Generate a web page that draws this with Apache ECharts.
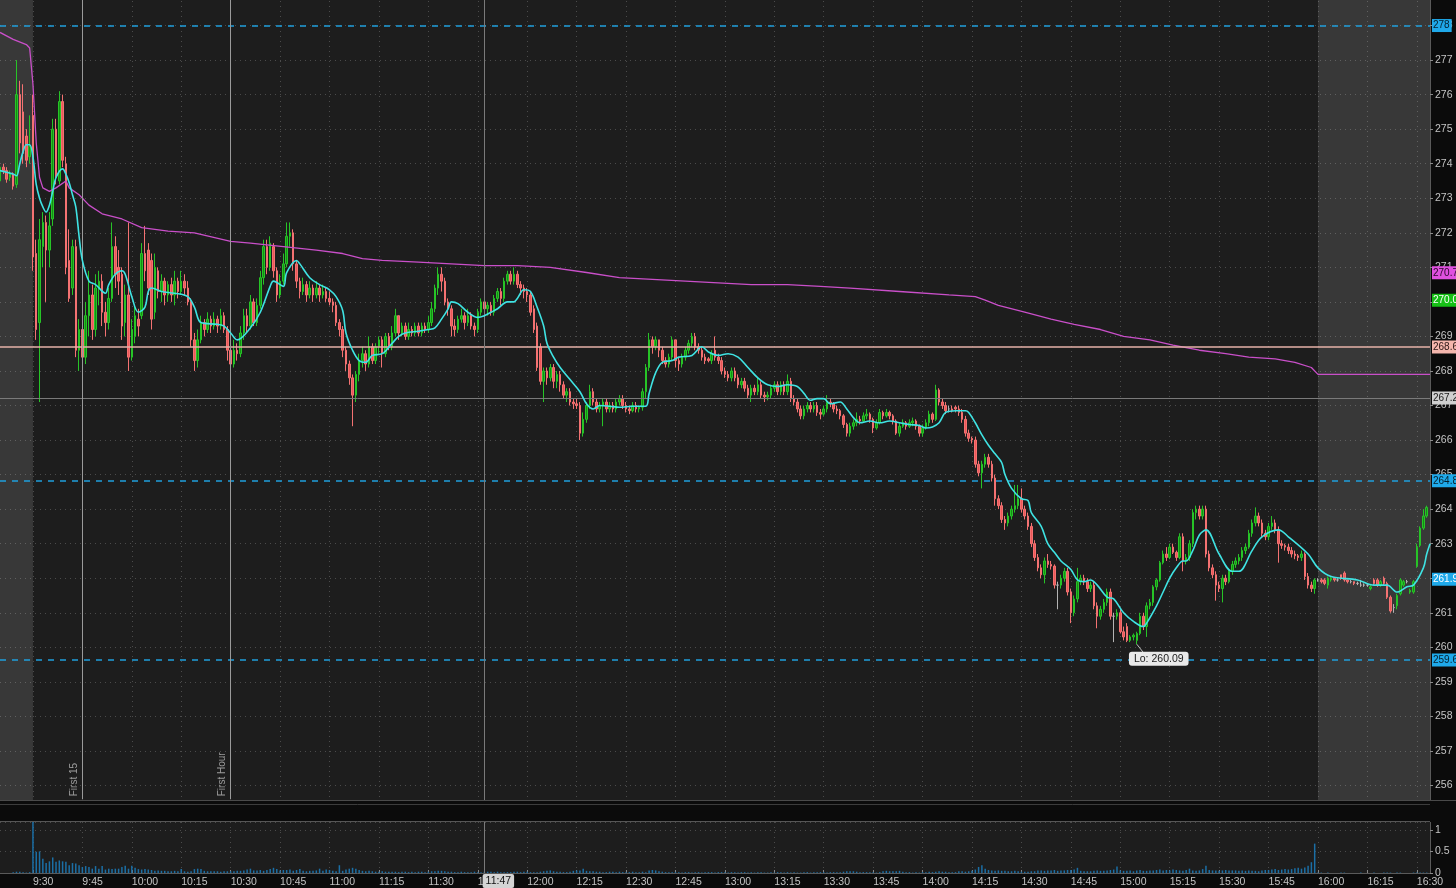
<!DOCTYPE html>
<html><head><meta charset="utf-8">
<script src="https://cdn.jsdelivr.net/npm/echarts@6/dist/echarts.min.js"></script>
<style>html,body{margin:0;padding:0;background:#0b0b0b;}#c{width:1456px;height:888px;}</style>
</head><body><div id="c"></div>
<script>
// ---------- time axis ----------
const firstMinute = 9 * 60 + 20;   // 9:20
const minuteCount = 435;            // 9:20 .. 16:34
function minuteLabel(t) { return Math.floor(t / 60) + ':' + String(t % 60).padStart(2, '0'); }
const categories = Array.from({ length: minuteCount }, (_, i) => minuteLabel(firstMinute + i));
const tickLabels = ['9:30','9:45','10:00','10:15','10:30','10:45','11:00','11:15','11:30','11:45','12:00','12:15','12:30','12:45','13:00','13:15','13:30','13:45','14:00','14:15','14:30','14:45','15:00','15:15','15:30','15:45','16:00','16:15','16:30'];
const priceTicks = [256,257,258,259,260,261,262,263,264,265,266,267,268,269,270,271,272,273,274,275,276,277,278];

// ---------- candles [open, close, low, high] ----------
const candles0920 = [
[273.5,273.9,273.4,274.0],[273.9,273.8,273.7,274.0],[273.8,273.55,273.45,273.9],[273.6,273.7,273.5,273.8],[273.7,273.35,273.25,273.75],
[273.4,276.0,273.3,277.0],[276.0,274.6,274.3,276.4],[275.5,274.3,274.0,276.3],[274.8,274.1,273.9,275.0],[274.2,274.5,274.0,275.4]];
const candles0930 = [
[275.4,271.3,270.9,276.0],[271.4,269.2,268.9,271.8],[269.4,271.8,267.1,272.4],[271.6,272.3,271.0,272.6],[272.3,271.5,270.0,272.5],
[271.5,272.2,271.0,272.6],[272.4,275.0,272.2,275.3],[275.0,273.6,273.4,275.3],[273.5,275.8,273.4,276.1],[275.8,274.1,273.9,276.0],
[274.0,271.0,270.8,274.2],[271.2,270.1,270.0,272.1],[270.4,271.6,270.2,271.8],[271.6,268.6,268.4,271.8],[268.6,269.2,268.0,269.5],
[269.2,268.4,267.9,269.5],[268.4,269.6,268.2,270.0],[269.6,270.2,269.0,270.9],[270.2,269.2,268.9,270.5],[269.2,270.4,269.0,270.8],
[270.4,270.6,269.9,270.9],[270.6,269.7,269.3,270.8],[269.7,269.4,269.0,270.0],[269.4,270.1,269.2,270.4],[270.1,271.6,270.0,272.3],
[271.6,270.8,270.4,271.9],[271.0,270.6,270.2,271.5],[270.8,269.3,268.9,271.0],[269.4,270.2,269.0,270.5],[270.2,268.4,268.0,272.3]];
const candles1000 = [
[268.4,269.2,268.3,269.5],[269.0,269.6,268.8,269.9],[269.5,269.3,269.0,269.8],[269.6,271.4,269.5,271.7],[271.4,270.9,270.6,272.2],
[271.5,270.4,270.2,271.7],[271.2,269.5,269.2,271.4],[269.7,271.0,269.5,271.4],[270.9,270.3,270.1,271.0],[270.3,270.6,270.0,270.8],
[270.6,270.2,269.9,270.7],[270.2,270.5,270.0,270.6],[270.5,270.2,270.0,270.7],[270.2,270.6,269.9,270.9],[270.6,270.3,270.1,270.7],
[270.3,270.6,270.2,270.9],[270.6,270.4,270.2,270.8],[270.4,270.0,269.9,270.6],[270.0,268.9,268.7,270.1],[268.9,268.3,268.0,269.1],
[268.3,268.9,268.1,269.2],[268.9,269.4,268.8,269.6],[269.4,269.2,269.0,269.5],[269.2,269.5,269.1,269.7],[269.5,269.3,269.1,269.6],
[269.3,269.5,269.2,269.7],[269.5,269.3,269.1,269.6],[269.3,269.6,269.2,269.8],[269.6,269.2,269.1,269.7],[269.2,268.6,268.3,269.3]];
const candles1030 = [
[268.6,268.2,268.0,268.7],[268.2,268.6,268.1,268.9],[268.6,268.5,268.3,268.8],[268.5,269.1,268.4,269.3],[269.1,269.6,268.9,269.8],
[269.6,269.3,269.1,269.8],[269.3,270.0,269.2,270.2],[270.0,269.4,269.3,270.1],[269.4,269.9,269.3,270.1],[269.9,270.7,269.8,270.9],
[270.7,271.6,270.5,271.8],[271.6,271.0,270.8,271.8],[271.0,271.7,270.9,271.9],[271.6,270.9,270.7,271.7],[270.9,270.2,270.0,271.0],
[270.2,270.6,270.1,270.8],[270.6,271.1,270.5,271.4],[271.1,271.9,271.0,272.3],[271.9,272.0,271.6,272.3],[272.0,271.1,270.9,272.1],
[271.1,270.6,270.4,271.2],[270.6,270.3,270.1,270.7],[270.3,270.5,270.2,270.7],[270.5,270.2,270.0,270.6],[270.2,270.4,270.1,270.6],
[270.4,270.2,270.0,270.5],[270.2,270.4,270.1,270.6],[270.4,270.2,270.0,270.5],[270.2,270.3,270.1,270.5],[270.3,270.1,270.0,270.4]];
const candles1100 = [
[270.1,270.0,269.9,270.3],[270.0,269.9,269.7,270.1],[269.9,269.4,269.3,270.0],[269.4,269.2,269.0,269.5],[269.2,268.6,268.4,269.3],
[268.6,268.2,268.0,268.7],[268.2,267.8,267.6,268.3],[267.8,267.3,266.4,267.9],[267.3,267.9,267.1,268.0],[267.9,268.3,267.7,268.5],
[268.3,268.5,268.1,268.7],[268.5,268.2,268.0,268.6],[268.2,268.7,268.1,269.0],[268.7,268.3,268.2,268.8],[268.3,268.7,268.2,268.8],
[268.7,268.9,268.5,269.0],[268.9,268.5,268.1,269.0],[268.5,269.0,268.4,269.1],[269.0,268.7,268.6,269.1],[268.7,269.1,268.6,269.3],
[269.1,269.6,269.0,269.8],[269.6,269.1,268.9,269.6],[269.1,269.3,269.0,269.4],[269.3,269.0,268.9,269.4],[269.0,269.2,268.9,269.4],
[269.2,269.1,269.0,269.3],[269.1,269.3,269.0,269.4],[269.3,269.1,269.0,269.4],[269.1,269.3,269.0,269.4],[269.3,269.2,269.1,269.4]];
const candles1130 = [
[269.2,269.4,269.1,269.6],[269.4,269.8,269.3,270.0],[269.8,270.4,269.7,270.5],[270.4,270.8,270.2,271.0],[270.8,270.6,270.3,271.0],
[270.6,270.0,269.9,270.7],[270.0,269.8,269.6,270.1],[269.8,269.3,269.0,269.9],[269.3,269.2,269.0,269.5],[269.2,269.5,269.1,269.6],
[269.5,269.6,269.4,269.8],[269.6,269.4,269.2,269.7],[269.4,269.6,269.3,269.8],[269.6,269.3,269.2,269.7],[269.3,269.2,269.0,269.4],
[269.2,269.7,269.1,269.8],[269.7,270.0,269.6,270.1],[270.0,269.8,269.7,270.1],[269.8,269.9,269.6,270.0],[269.9,269.7,269.6,270.0],
[269.7,270.1,269.6,270.2],[270.1,270.3,270.0,270.4],[270.3,270.1,269.9,270.4],[270.1,270.6,270.0,270.7],[270.6,270.8,270.5,270.9],
[270.8,270.6,270.5,270.9],[270.6,270.8,270.5,271.0],[270.8,270.5,270.4,270.9],[270.5,270.4,270.2,270.6],[270.4,270.3,270.1,270.5]];
const candles1200 = [
[270.3,270.2,270.0,270.4],[270.2,269.7,269.6,270.3],[269.8,269.2,269.1,269.9],[269.3,268.1,268.0,269.4],[268.7,267.7,267.6,268.8],
[267.7,268.0,267.1,268.1],[268.0,267.8,267.6,268.1],[267.8,268.1,267.7,268.2],[268.1,267.7,267.5,268.2],[267.7,267.9,267.5,268.0],
[267.9,267.6,267.4,268.0],[267.6,267.3,267.2,267.7],[267.3,267.4,267.1,267.5],[267.4,267.1,267.0,267.5],[267.1,267.05,266.9,267.2],
[267.05,267.0,266.9,267.2],[267.0,266.2,266.0,267.1],[266.2,266.6,266.1,266.8],[266.6,267.0,266.5,267.1],[267.0,267.4,266.9,267.6],
[267.4,267.1,267.0,267.5],[267.1,266.9,266.8,267.2],[266.9,267.0,266.8,267.1],[267.0,267.1,266.4,267.2],[267.1,266.9,266.8,267.2],
[266.9,267.0,266.8,267.1],[267.0,266.9,266.8,267.1],[266.9,267.1,266.8,267.2],[267.1,267.2,267.0,267.3],[267.2,267.0,266.9,267.3]];
const candles1230 = [
[267.0,266.9,266.8,267.1],[266.9,266.85,266.75,267.0],[266.85,267.0,266.8,267.1],[267.0,266.9,266.8,267.1],[266.9,266.95,266.8,267.0],
[266.95,267.4,266.85,267.5],[267.4,268.1,267.2,268.2],[268.1,268.9,268.0,269.1],[268.9,268.7,268.5,269.0],[268.7,268.9,268.6,269.0],
[268.9,268.6,268.4,268.9],[268.6,268.3,268.2,268.7],[268.3,268.2,268.1,268.4],[268.2,268.4,268.1,268.5],[268.4,268.9,268.3,269.0],
[268.9,268.3,268.1,268.9],[268.3,268.2,268.0,268.4],[268.2,268.4,268.1,268.5],[268.4,268.6,268.3,268.7],[268.6,268.8,268.5,268.9],
[268.8,269.0,268.7,269.1],[269.0,268.7,268.6,269.1],[268.7,268.6,268.5,268.8],[268.6,268.4,268.3,268.7],[268.4,268.3,268.2,268.5],
[268.35,268.3,268.25,268.4],[268.3,268.5,268.2,268.6],[268.6,268.4,268.3,269.0],[268.4,268.3,268.2,268.5],[268.3,268.0,267.9,268.4]];
const candles1300 = [
[268.0,267.9,267.8,268.1],[267.9,267.8,267.7,268.0],[267.8,268.0,267.7,268.1],[268.0,267.8,267.7,268.1],[267.8,267.6,267.5,267.9],
[267.6,267.7,267.5,267.8],[267.7,267.5,267.4,267.8],[267.5,267.3,267.2,267.6],[267.3,267.5,267.1,267.6],[267.5,267.4,267.3,267.6],
[267.4,267.6,267.3,267.8],[267.6,267.3,267.2,267.7],[267.3,267.25,267.1,267.4],[267.25,267.3,267.15,267.4],[267.3,267.5,267.2,267.6],
[267.5,267.6,267.4,267.7],[267.6,267.4,267.3,267.7],[267.4,267.6,267.3,267.7],[267.6,267.4,267.3,267.7],[267.4,267.7,267.3,267.9],
[267.7,267.2,267.1,267.8],[267.2,267.1,267.0,267.3],[267.1,266.9,266.8,267.2],[266.9,266.7,266.6,267.0],[266.7,266.9,266.6,267.0],
[266.9,267.0,266.8,267.1],[267.0,266.9,266.8,267.1],[266.9,267.0,266.8,267.1],[267.0,266.8,266.7,267.1],[266.8,266.75,266.6,266.9]];
const candles1330 = [
[266.75,266.9,266.7,267.0],[266.9,267.1,266.8,267.3],[267.1,267.05,266.95,267.2],[267.05,266.9,266.8,267.1],[266.9,266.85,266.75,267.0],
[266.85,266.7,266.6,266.9],[266.7,266.45,266.35,266.75],[266.45,266.2,266.1,266.5],[266.2,266.4,266.1,266.5],[266.4,266.5,266.3,266.6],
[266.5,266.6,266.4,266.8],[266.6,266.55,266.45,266.7],[266.55,266.7,266.5,266.8],[266.7,266.75,266.6,266.9],[266.75,266.6,266.5,266.8],
[266.6,266.35,266.2,266.65],[266.35,266.5,266.3,266.6],[266.5,266.8,266.45,266.9],[266.8,266.7,266.6,266.85],[266.7,266.8,266.65,266.9],
[266.8,266.7,266.6,266.85],[266.7,266.55,266.45,266.75],[266.55,266.2,266.15,266.6],[266.2,266.4,266.1,266.5],[266.4,266.5,266.35,266.6],
[266.5,266.4,266.3,266.55],[266.4,266.5,266.35,266.6],[266.5,266.55,266.4,266.65],[266.55,266.4,266.3,266.6],[266.4,266.2,266.1,266.45]];
const candles1400 = [
[266.2,266.35,266.1,266.45],[266.35,266.5,266.3,266.6],[266.5,266.75,266.4,266.85],[266.75,266.6,266.5,266.8],[266.6,267.45,266.55,267.6],
[267.45,267.1,267.0,267.5],[267.1,267.0,266.9,267.2],[267.0,266.85,266.75,267.1],[266.9,266.9,266.8,267.0],[266.9,266.85,266.8,267.0],
[266.95,266.9,266.8,267.0],[266.9,266.8,266.7,267.0],[266.8,266.6,266.5,266.9],[266.6,266.2,266.1,266.7],[266.2,266.05,265.95,266.3],
[266.05,266.0,265.9,266.1],[266.0,265.3,265.2,266.1],[265.3,265.05,264.95,265.4],[265.05,265.3,264.6,265.4],[265.3,265.5,265.2,265.6],
[265.5,265.3,265.2,265.6],[265.3,264.9,264.8,265.4],[264.9,264.3,264.1,265.0],[264.3,264.1,264.0,264.4],[264.1,263.7,263.6,264.2],
[263.7,263.6,263.4,263.8],[263.6,263.8,263.5,263.9],[263.8,264.0,263.7,264.1],[264.0,264.1,263.9,264.7],[264.1,264.3,264.0,264.7]];
const candles1430 = [
[264.3,264.0,263.9,264.6],[264.0,263.8,263.7,264.1],[263.8,263.5,263.4,263.9],[263.5,263.0,262.9,263.6],[263.0,262.6,262.5,263.1],
[262.6,262.3,262.2,262.7],[262.3,262.1,262.0,262.4],[262.1,262.5,261.85,262.6],[262.5,262.4,262.3,262.7],[262.4,262.35,262.25,262.5],
[262.35,261.8,261.7,262.4],[261.8,261.8,261.1,261.9],[261.8,262.0,261.7,262.1],[262.0,262.2,261.9,262.3],[262.2,261.6,261.5,262.3],
[261.6,261.0,260.7,261.7],[261.0,261.4,260.9,261.5],[261.4,261.9,261.3,262.3],[261.9,262.0,261.8,262.1],[262.0,261.9,261.8,262.1],
[261.9,261.7,261.6,262.0],[261.7,261.8,261.6,261.9],[261.8,261.2,261.1,261.9],[261.2,260.9,260.55,261.3],[260.9,261.1,260.8,261.2],
[261.1,261.3,261.0,261.4],[261.3,261.6,261.2,261.7],[261.6,260.9,260.8,261.7],[260.9,260.9,260.15,261.0],[260.9,261.0,260.8,261.1]];
const candles1500 = [
[261.0,260.45,260.4,261.1],[260.45,260.3,260.2,260.6],[260.6,260.2,260.15,260.7],[260.2,260.3,260.15,260.35],[260.3,260.35,260.2,260.4],
[260.2,260.4,260.09,260.45],[260.4,260.9,260.35,261.0],[260.9,260.6,260.5,261.0],[260.6,261.2,260.3,261.3],[261.2,261.3,261.1,261.4],
[261.3,261.75,261.2,261.8],[261.75,261.95,261.65,262.0],[261.95,262.45,261.9,262.5],[262.45,262.7,262.4,262.8],[262.7,262.6,262.5,262.9],
[262.6,262.9,262.55,263.0],[262.9,262.75,262.7,263.0],[262.75,262.6,262.5,262.8],[262.6,263.2,262.55,263.3],[263.2,262.5,262.2,263.3],
[262.5,262.6,262.4,262.7],[262.6,263.0,262.5,263.1],[263.0,263.9,262.9,264.0],[263.9,264.0,263.7,264.1],[264.0,263.8,263.7,264.1],
[263.8,264.0,263.7,264.1],[264.0,262.7,262.6,264.1],[262.7,262.3,262.2,262.8],[262.3,262.1,262.0,262.4],[262.1,261.8,261.35,262.2]];
const candles1530 = [
[261.8,261.7,261.6,261.9],[261.7,262.0,261.3,262.1],[262.0,261.9,261.8,262.1],[261.9,262.2,261.85,262.3],[262.2,262.4,262.1,262.5],
[262.4,262.5,262.3,262.6],[262.5,262.6,262.4,262.7],[262.6,262.8,262.5,262.9],[262.8,262.9,262.7,263.0],[262.9,263.3,262.85,263.4],
[263.3,263.6,263.2,263.7],[263.6,263.8,263.5,264.05],[263.8,263.6,263.5,263.9],[263.6,263.3,263.2,263.7],[263.3,263.2,263.1,263.4],
[263.2,263.5,263.1,263.6],[263.5,263.6,263.4,263.8],[263.6,263.4,263.3,263.7],[263.4,263.0,262.45,263.5],[263.0,262.95,262.85,263.1],
[262.95,262.9,262.8,263.0],[262.9,262.8,262.7,263.0],[262.8,262.7,262.6,262.9],[262.7,262.65,262.55,262.8],[262.65,262.6,262.5,262.7],
[262.6,262.7,262.5,262.8],[262.7,262.05,261.95,262.75],[262.05,261.8,261.7,262.15],[261.8,261.7,261.6,261.9],[261.7,261.95,261.55,262.0]];
const candles1600 = [
[261.95,261.95,261.9,262.0],[261.95,261.9,261.85,262.0],[261.95,261.85,261.8,262.0],[261.8,262.0,261.7,262.05],[261.95,262.0,261.9,262.05],
[262.0,261.95,261.9,262.0],[261.95,261.95,261.9,262.0],[262.1,262.0,261.95,262.1],[262.15,261.95,261.9,262.2],[261.95,261.9,261.85,261.95],
[261.9,261.9,261.85,261.95],[261.9,261.85,261.8,261.9],[261.85,261.85,261.8,261.9],[261.8,261.8,261.75,261.95],[261.8,261.8,261.75,261.85],
[261.8,261.8,261.75,261.85],[261.7,261.75,261.65,261.8],[261.95,261.85,261.8,262.0],[261.95,261.8,261.75,262.0],[261.8,261.9,261.75,261.95],
[262.0,261.85,261.8,262.05],[261.85,261.45,261.4,261.9],[261.45,261.05,261.0,261.5],[261.15,261.15,261.0,261.25],[261.2,261.5,261.1,261.55],
[261.55,261.95,261.5,262.0],[261.8,261.9,261.75,261.95],[261.9,261.9,261.85,261.95],[261.6,261.65,261.55,261.7],[261.6,261.9,261.55,261.95],
[262.35,262.9,262.3,263.0],[262.95,263.45,262.9,263.5],[263.45,263.8,263.4,264.0],[263.8,264.05,263.75,264.1]];

// ---------- volume (millions) ----------
const volume0920 = [0,0,0,0,0.02,0.03,0.03,0.02,0.01,0.02];
const volume0930 = [1.5,0.49,0.5,0.33,0.23,0.27,0.36,0.26,0.29,0.27,0.26,0.18,0.23,0.22,0.18,0.14,0.16,0.14,0.1,0.16,0.1,0.16,0.08,0.1,0.09,0.1,0.1,0.14,0.17,0.1];
const volume1000 = [0.17,0.12,0.09,0.08,0.09,0.08,0.07,0.05,0.06,0.05,0.05,0.04,0.04,0.05,0.04,0.09,0.04,0.03,0.04,0.09,0.1,0.09,0.05,0.04,0.04,0.04,0.04,0.03,0.04,0.04];
const volume1030 = [0.04,0.04,0.05,0.05,0.06,0.08,0.1,0.06,0.06,0.07,0.05,0.07,0.09,0.12,0.09,0.06,0.07,0.07,0.08,0.05,0.07,0.09,0.05,0.04,0.05,0.05,0.06,0.1,0.05,0.08];
const volume1100 = [0.07,0.05,0.04,0.18,0.05,0.08,0.1,0.12,0.1,0.07,0.05,0.04,0.05,0.04,0.03,0.03,0.04,0.03,0.03,0.03,0.03,0.02,0.03,0.03,0.02,0.03,0.02,0.03,0.03,0.02];
const volume1130 = [0.03,0.04,0.04,0.05,0.05,0.04,0.03,0.03,0.02,0.02,0.03,0.02,0.02,0.02,0.03,0.02,0.02,0.03,0.03,0.03,0.02,0.03,0.02,0.02,0.02,0.02,0.03,0.03,0.02,0.03];
const volume1200 = [0.03,0.02,0.02,0.02,0.03,0.04,0.05,0.06,0.04,0.03,0.03,0.02,0.02,0.03,0.05,0.06,0.06,0.1,0.05,0.04,0.04,0.03,0.03,0.02,0.02,0.03,0.03,0.02,0.03,0.02];
const volume1230 = [0.02,0.02,0.03,0.02,0.02,0.03,0.02,0.06,0.07,0.06,0.04,0.03,0.02,0.02,0.02,0.02,0.02,0.01,0.02,0.02,0.01,0.02,0.02,0.01,0.02,0.02,0.02,0.01,0.02,0.02];
const volume1300 = [0.02,0.01,0.02,0.02,0.01,0.02,0.02,0.01,0.02,0.01,0.02,0.02,0.01,0.01,0.02,0.01,0.02,0.02,0.01,0.02,0.01,0.02,0.01,0.01,0.02,0.02,0.01,0.02,0.02,0.02];
const volume1330 = [0.02,0.01,0.02,0.02,0.02,0.02,0.03,0.04,0.04,0.04,0.03,0.02,0.02,0.02,0.02,0.02,0.01,0.02,0.04,0.05,0.04,0.04,0.04,0.05,0.03,0.02,0.02,0.01,0.02,0.01];
const volume1400 = [0.02,0.02,0.03,0.02,0.03,0.04,0.03,0.03,0.02,0.02,0.02,0.04,0.04,0.03,0.04,0.05,0.08,0.14,0.18,0.1,0.07,0.06,0.05,0.06,0.05,0.05,0.04,0.04,0.05,0.04];
const volume1430 = [0.03,0.03,0.03,0.04,0.04,0.06,0.06,0.05,0.06,0.06,0.07,0.05,0.06,0.06,0.07,0.07,0.08,0.12,0.05,0.04,0.04,0.04,0.05,0.06,0.05,0.05,0.06,0.07,0.08,0.15];
const volume1500 = [0.06,0.05,0.05,0.06,0.04,0.06,0.07,0.05,0.05,0.06,0.06,0.07,0.08,0.06,0.07,0.06,0.08,0.07,0.06,0.05,0.07,0.1,0.06,0.05,0.06,0.09,0.17,0.07,0.06,0.06];
const volume1530 = [0.05,0.06,0.07,0.06,0.06,0.06,0.05,0.06,0.05,0.06,0.05,0.05,0.04,0.06,0.07,0.07,0.08,0.09,0.07,0.08,0.09,0.08,0.09,0.11,0.12,0.1,0.13,0.17,0.25,0.68];
const volume1600 = [0.01,0.01,0,0.01,0,0,0,0.01,0.01,0,0,0,0,0.01,0,0,0,0.01,0,0,0.01,0.01,0.01,0,0.01,0.01,0,0,0,0.01,0.01,0.01,0.01,0.01];

// ---------- studies ----------
const emaPoints = [['9:20',273.8],['9:24',273.7],['9:25',273.65],['9:26',274.0],['9:27',274.35],['9:28',274.55],['9:29',274.55],['9:30',274.2],['9:31',273.4],['9:32',273.0],['9:33',272.75],['9:34',272.6],['9:35',272.8],['9:36',273.2],['9:37',273.6],['9:39',273.85],['9:40',273.7],['9:41',273.45],['9:42',273.1],['9:43',272.75],['9:44',271.9],['9:45',271.2],['9:47',270.6],['9:49',270.5],['9:52',270.25],['9:53',270.5],['9:55',270.8],['9:57',270.9],['9:58',270.8],['10:00',270.15],['10:02',269.7],['10:04',269.85],['10:05',270.3],['10:06',270.4],['10:09',270.3],['10:13',270.25],['10:17',270.15],['10:19',269.85],['10:21',269.4],['10:26',269.35],['10:28',269.3],['10:30',269.1],['10:32',268.9],['10:36',269.25],['10:39',269.7],['10:42',270.45],['10:43',270.6],['10:46',270.45],['10:47',270.85],['10:50',271.2],['10:51',271.1],['10:54',270.7],['10:57',270.5],['11:00',270.35],['11:02',270.15],['11:04',269.75],['11:05',269.1],['11:07',268.6],['11:09',268.3],['11:11',268.25],['11:13',268.45],['11:16',268.5],['11:19',268.8],['11:21',269.0],['11:23',269.1],['11:27',269.15],['11:30',269.2],['11:32',269.25],['11:34',269.5],['11:36',269.8],['11:37',270.0],['11:39',269.95],['11:42',269.7],['11:45',269.55],['11:47',269.6],['11:49',269.7],['11:51',269.8],['11:54',270.0],['11:56',270.0],['11:57',270.1],['11:59',270.35],['12:01',270.3],['12:03',269.85],['12:05',269.3],['12:06',268.8],['12:08',268.4],['12:10',268.1],['12:13',267.75],['12:16',267.4],['12:18',267.05],['12:20',266.9],['12:22',267.0],['12:25',266.98],['12:28',266.95],['12:32',266.98],['12:36',266.98],['12:37',267.35],['12:39',267.95],['12:41',268.25],['12:44',268.3],['12:46',268.4],['12:50',268.45],['12:53',268.7],['12:55',268.55],['12:58',268.45],['13:01',268.5],['13:04',268.4],['13:07',268.1],['13:10',267.8],['13:13',267.6],['13:16',267.55],['13:19',267.6],['13:22',267.55],['13:24',267.35],['13:26',267.15],['13:28',267.2],['13:30',267.2],['13:32',267.05],['13:35',267.1],['13:37',266.9],['13:39',266.65],['13:41',266.5],['13:44',266.55],['13:47',266.5],['13:50',266.55],['13:53',266.5],['13:56',266.45],['13:59',266.42],['14:01',266.35],['14:03',266.38],['14:05',266.5],['14:07',266.8],['14:10',266.85],['14:13',266.85],['14:14',266.8],['14:16',266.5],['14:18',266.15],['14:20',265.85],['14:22',265.6],['14:24',265.35],['14:25',265.0],['14:27',264.6],['14:30',264.3],['14:32',264.25],['14:33',263.9],['14:36',263.5],['14:38',263.0],['14:40',262.75],['14:42',262.5],['14:45',262.25],['14:47',261.95],['14:49',261.9],['14:51',261.95],['14:53',261.8],['14:56',261.45],['14:58',261.4],['15:01',261.0],['15:04',260.75],['15:07',260.6],['15:08',260.7],['15:11',261.2],['15:13',261.6],['15:15',262.0],['15:17',262.3],['15:19',262.5],['15:20',262.5],['15:22',262.8],['15:24',263.25],['15:26',263.4],['15:30',262.7],['15:34',262.2],['15:36',262.2],['15:40',262.8],['15:43',263.2],['15:48',263.4],['15:51',263.2],['15:57',262.7],['16:00',262.3],['16:04',262.05],['16:12',261.95],['16:17',261.8],['16:21',261.8],['16:24',261.6],['16:27',261.75],['16:29',261.8],['16:32',262.3],['16:33',262.7],['16:34',263.0]];
const vwapTimes = ['9:20','9:24','9:28','9:29','9:30','9:31','9:32','9:33','9:35','9:37','9:40','9:41','9:44','9:47','9:51','9:57','10:03','10:11','10:19','10:30','10:36','10:46','10:56','11:04','11:10','11:16','11:27','11:37','11:47','11:57','12:07','12:18','12:28','12:38','12:48','12:58','13:08','13:19','13:29','13:38','13:53','14:08','14:16','14:19','14:23','14:31','14:39','14:46','14:54','15:01','15:09','15:16','15:24','15:32','15:39','15:47','15:53','15:58','16:00','16:34'];
const vwapValues = [277.8,277.6,277.45,277.35,276.3,274.6,273.6,273.3,273.2,273.3,273.5,273.3,273.1,272.8,272.55,272.4,272.15,272.05,272.0,271.75,271.7,271.6,271.5,271.4,271.25,271.2,271.15,271.1,271.05,271.05,271.0,270.85,270.7,270.65,270.6,270.55,270.5,270.5,270.45,270.4,270.3,270.2,270.15,270.05,269.9,269.7,269.5,269.35,269.2,269.0,268.9,268.75,268.6,268.5,268.4,268.35,268.25,268.1,267.9,267.9];

// ---------- price levels ----------
const dashedLevels = [278, 264.82, 259.63];
const dashedLevelTexts = ['278', '264.82', '259.63'];
const priorCloseLevel = 268.69;
const crosshairPrice = 267.22;
const crosshairTime = '11:47';
const tagOnlyLevels = [270.84, 270.05, 261.97];
const tagOnlyTexts = ['270.78', '270.05', '261.97'];
const sessionLow = { time: '15:05', value: 260.09 };

// ---------- assemble ----------
function fit(block, n) { const b = block.slice(0, n); while (b.length < n) b.push('-'); return b; }
const candles = [].concat(fit(candles0920,10), fit(candles0930,30), fit(candles1000,30), fit(candles1030,30), fit(candles1100,30),
  fit(candles1130,30), fit(candles1200,30), fit(candles1230,30), fit(candles1300,30), fit(candles1330,30), fit(candles1400,30),
  fit(candles1430,30), fit(candles1500,30), fit(candles1530,30), fit(candles1600,34));
while (candles.length < minuteCount) candles.push('-');
const volumes = [].concat(fit(volume0920,10), fit(volume0930,30), fit(volume1000,30), fit(volume1030,30), fit(volume1100,30),
  fit(volume1130,30), fit(volume1200,30), fit(volume1230,30), fit(volume1300,30), fit(volume1330,30), fit(volume1400,30),
  fit(volume1430,30), fit(volume1500,30), fit(volume1530,30), fit(volume1600,34));
while (volumes.length < minuteCount) volumes.push('-');
const vwapPoints = vwapTimes.map((t, i) => [t, vwapValues[i]]);

const tickSet = new Set(tickLabels);
const isTick = (idx) => tickSet.has(categories[idx]);
const FONT = 'Liberation Sans';
const dotted = { show: true, lineStyle: { color: '#4b4b4b', type: [1, 4], width: 1 } };

function tag(text, bg, fg) {
  return { show: true, position: 'end', formatter: text, backgroundColor: bg, color: fg, fontSize: 10,
    fontFamily: FONT, padding: [1, 2, 0, 1], distance: 2, lineHeight: 12 };
}
const levelLines = [];
dashedLevels.forEach((v, i) => levelLines.push({ yAxis: v,
  lineStyle: { color: '#1f9fdc', type: [6, 6], width: 1.6 }, label: tag(dashedLevelTexts[i], '#1fa9ea', '#06202e') }));
levelLines.push({ yAxis: priorCloseLevel, lineStyle: { color: '#e6b2a8', type: 'solid', width: 1.5 },
  label: tag(String(priorCloseLevel), '#f4b6ad', '#2a1616') });
levelLines.push({ yAxis: crosshairPrice, lineStyle: { color: '#7a7a7a', type: 'solid', width: 1 },
  label: tag(String(crosshairPrice), '#cfcfcf', '#1a1a1a') });
const tagColors = [['#e050e0', '#2a082a'], ['#16c016', '#ffffff'], ['#1fa9ea', '#ffffff']];
tagOnlyLevels.forEach((v, i) => levelLines.push({ yAxis: v, lineStyle: { color: 'rgba(0,0,0,0)', width: 1 },
  label: tag(tagOnlyTexts[i], tagColors[i][0], tagColors[i][1]) }));
function marker(time, text) {
  const st = { color: '#9a9a9a', type: 'solid', width: 1 };
  return [{ coord: [time, 255.6], lineStyle: st,
    label: { show: true, formatter: text, position: 'insideStartTop', color: '#9c9c9c', fontSize: 10, fontFamily: FONT, distance: 3 } },
    { coord: [time, 279], lineStyle: st }];
}
levelLines.push(marker('9:45', 'First 15'));
levelLines.push(marker('10:30', 'First Hour'));
levelLines.push({ xAxis: crosshairTime, lineStyle: { color: '#7a7a7a', type: 'solid', width: 1 }, label: { show: false } });
levelLines.push([{ coord: [sessionLow.time, sessionLow.value], lineStyle: { color: '#bdbdbd', type: 'solid', width: 1 }, label: { show: false } },
  { coord: ['15:07', 259.85] }]);

const chart = echarts.init(document.getElementById('c'), null, { renderer: 'canvas' });
chart.setOption({
  animation: false,
  backgroundColor: '#0b0b0b',
  textStyle: { fontFamily: FONT },
  grid: [
    { left: 0, right: 26, top: -9, height: 829, show: true, backgroundColor: '#1d1d1d', borderWidth: 0, outerBoundsMode: 'none', containLabel: false },
    { left: 0, right: 26, top: 822, height: 51, show: true, backgroundColor: '#1d1d1d', borderWidth: 0, outerBoundsMode: 'none', containLabel: false }
  ],
  xAxis: [
    { type: 'category', gridIndex: 0, data: categories, boundaryGap: false,
      axisLine: { show: false }, axisTick: { show: false }, axisLabel: { show: false },
      splitLine: Object.assign({ interval: isTick }, dotted) },
    { type: 'category', gridIndex: 1, data: categories, boundaryGap: false,
      axisLine: { show: true, lineStyle: { color: '#5a5a5a' } },
      axisTick: { show: true, inside: true, length: 3, interval: isTick, alignWithLabel: true, lineStyle: { color: '#888' } },
      axisLabel: { interval: isTick, align: 'left', color: '#c4c4c4', fontSize: 10.5, margin: 4, fontFamily: FONT, hideOverlap: false },
      splitLine: Object.assign({ interval: isTick }, dotted) }
  ],
  yAxis: [
    { type: 'value', gridIndex: 0, position: 'right', min: 255, max: 279, interval: 1,
      axisLine: { show: true, lineStyle: { color: '#5a5a5a' } },
      axisTick: { show: true, length: 3, lineStyle: { color: '#8a8a8a' } },
      axisLabel: { color: '#c4c4c4', fontSize: 10.5, margin: 5, fontFamily: FONT, showMaxLabel: false, showMinLabel: false,
        formatter: (v) => priceTicks.includes(v) ? String(v) : '' },
      splitLine: dotted },
    { type: 'value', gridIndex: 1, position: 'right', min: 0, max: 1.18, interval: 0.5,
      axisLine: { show: true, lineStyle: { color: '#5a5a5a' } },
      axisTick: { show: true, length: 3, lineStyle: { color: '#8a8a8a' } },
      axisLabel: { color: '#c4c4c4', fontSize: 10.5, margin: 5, fontFamily: FONT, showMaxLabel: false },
      splitLine: dotted }
  ],
  series: [
    { type: 'candlestick', name: 'Price', xAxisIndex: 0, yAxisIndex: 0, data: candles, barWidth: 2, z: 3,
      itemStyle: { color: '#138f13', color0: '#ec5858', borderColor: '#27c427', borderColor0: '#f47272', borderColorDoji: '#b4b4b4', borderWidth: 1 },
      markArea: { silent: true, itemStyle: { color: 'rgba(255,255,255,0.12)' },
        data: [[{ xAxis: '9:20' }, { xAxis: '9:30' }], [{ xAxis: '16:00' }, { xAxis: '16:34' }]] },
      markLine: { silent: true, symbol: ['none', 'none'], animation: false, data: levelLines },
      markPoint: { silent: true, animation: false, data: [{ coord: [sessionLow.time, sessionLow.value], symbol: 'rect', symbolSize: [1, 1],
        itemStyle: { color: 'rgba(0,0,0,0)' },
        label: { show: true, formatter: 'Lo: ' + sessionLow.value.toFixed(2), position: 'bottom', distance: 7, offset: [22, 0],
          backgroundColor: '#e9e9e9', color: '#1a1a1a', borderRadius: 3, padding: [2, 5, 1, 5], fontSize: 10.5, fontFamily: FONT } }] } },
    { type: 'line', name: 'VWAP', xAxisIndex: 0, yAxisIndex: 0, data: vwapPoints, showSymbol: false, z: 4,
      lineStyle: { color: '#c94fc9', width: 1.3 }, itemStyle: { color: '#c94fc9' } },
    { type: 'line', name: 'EMA', xAxisIndex: 0, yAxisIndex: 0, data: emaPoints, showSymbol: false, smooth: 0.35, z: 5,
      lineStyle: { color: '#3fe3e3', width: 1.6 }, itemStyle: { color: '#3fe3e3' } },
    { type: 'bar', name: 'Volume', xAxisIndex: 1, yAxisIndex: 1, data: volumes, barWidth: 1.5, z: 3,
      itemStyle: { color: '#1b6fa6' },
      markLine: { silent: true, symbol: ['none', 'none'], animation: false,
        data: [{ xAxis: crosshairTime, lineStyle: { color: '#7a7a7a', type: 'solid', width: 1 },
          label: { show: true, position: 'start', formatter: crosshairTime, backgroundColor: '#d4d4d4', color: '#111',
            padding: [2, 3, 1, 3], borderRadius: 2, fontSize: 10.5, fontFamily: FONT, distance: 1, offset: [14, 0] } }] } }
  ],
  graphic: [
    { type: 'rect', z: 100, shape: { x: 0, y: 800, width: 1456, height: 22 }, style: { fill: '#0b0b0b' } },
    { type: 'line', z: 101, shape: { x1: 0, y1: 800.5, x2: 1456, y2: 800.5 }, style: { stroke: '#4a4a4a', lineWidth: 1 } },
    { type: 'line', z: 101, shape: { x1: 0, y1: 804.5, x2: 1430, y2: 804.5 }, style: { stroke: '#3c3c3c', lineWidth: 1 } },
    { type: 'line', z: 101, shape: { x1: 0, y1: 821.5, x2: 1430, y2: 821.5 }, style: { stroke: '#565656', lineWidth: 1 } }
  ]
});
</script></body></html>
